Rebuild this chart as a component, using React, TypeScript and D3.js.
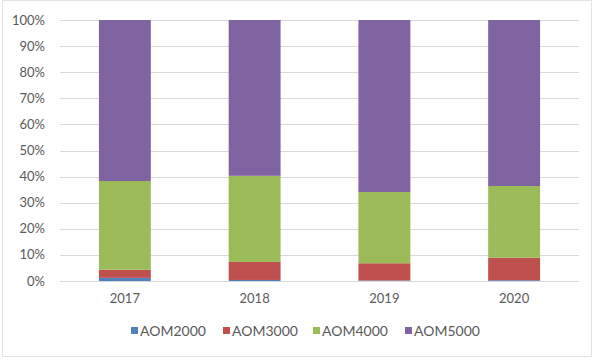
import React, { useRef, useEffect } from 'react';
import * as d3 from 'd3';

const years = ['2017', '2018', '2019', '2020'];
const seriesNames = ['AOM2000', 'AOM3000', 'AOM4000', 'AOM5000'];
const aom2000 = [1.2, 0.4, 0.2, 0.3];
const aom3000 = [3.1, 6.9, 6.6, 8.6];
const aom4000 = [34.0, 33.0, 27.3, 27.5];
const aom5000 = [61.7, 59.7, 65.9, 63.6];
const colors = ['#4f81bd', '#c0504d', '#9bbb59', '#8064a2'];
const yTicks = [0, 10, 20, 30, 40, 50, 60, 70, 80, 90, 100];

const W = 600;
const H = 361;
const margin = { top: 20, right: 21, bottom: 80, left: 60 };

const App = () => {
  const ref = useRef<SVGSVGElement | null>(null);

  useEffect(() => {
    if (!ref.current) return;
    const svg = d3.select(ref.current);
    svg.selectAll('*').remove();

    const rows = years.map((y, i) => ({
      year: y,
      AOM2000: aom2000[i],
      AOM3000: aom3000[i],
      AOM4000: aom4000[i],
      AOM5000: aom5000[i],
    }));
    const stacked = d3.stack<any>().keys(seriesNames)(rows);

    const x = d3
      .scaleBand()
      .domain(years)
      .range([margin.left, W - margin.right])
      .paddingInner(0.6)
      .paddingOuter(0.3);
    const y = d3
      .scaleLinear()
      .domain([0, 100])
      .range([H - margin.bottom, margin.top]);

    const font = 'Lato, "Open Sans", sans-serif';

    // frame
    svg
      .append('rect')
      .attr('x', 2.5)
      .attr('y', 0.5)
      .attr('width', 589)
      .attr('height', 356)
      .attr('fill', 'white')
      .attr('stroke', '#e3e3e3');

    // grid
    svg
      .append('g')
      .selectAll('line')
      .data(yTicks)
      .enter()
      .append('line')
      .attr('x1', margin.left)
      .attr('x2', W - margin.right)
      .attr('y1', (d) => Math.round(y(d)) + 0.5)
      .attr('y2', (d) => Math.round(y(d)) + 0.5)
      .attr('stroke', '#d9d9d9')
      .attr('stroke-width', 1);

    svg
      .append('g')
      .selectAll('text')
      .data(yTicks)
      .enter()
      .append('text')
      .attr('x', 45)
      .attr('y', (d) => y(d))
      .attr('dy', '0.35em')
      .attr('text-anchor', 'end')
      .attr('font-family', font)
      .attr('font-size', 13)
      .attr('fill', '#595959')
      .text((d) => `${d}%`);

    // bars
    svg
      .append('g')
      .selectAll('g')
      .data(stacked)
      .enter()
      .append('g')
      .attr('fill', (_, i) => colors[i])
      .selectAll('rect')
      .data((d) => d)
      .enter()
      .append('rect')
      .attr('x', (d) => x(d.data.year) ?? 0)
      .attr('width', x.bandwidth())
      .attr('y', (d) => y(d[1]))
      .attr('height', (d) => y(d[0]) - y(d[1]));

    // x labels
    svg
      .append('g')
      .selectAll('text')
      .data(years)
      .enter()
      .append('text')
      .attr('x', (d) => (x(d) ?? 0) + x.bandwidth() / 2)
      .attr('y', 303)
      .attr('text-anchor', 'middle')
      .attr('font-family', font)
      .attr('font-size', 13)
      .attr('fill', '#595959')
      .text((d) => d);

    // legend
    const legendX = [131, 223, 313, 405];
    const lg = svg
      .append('g')
      .selectAll('g')
      .data(seriesNames)
      .enter()
      .append('g')
      .attr('transform', (_, i) => `translate(${legendX[i]},331)`);
    lg.append('rect')
      .attr('x', 0)
      .attr('y', -4)
      .attr('width', 7)
      .attr('height', 7)
      .attr('fill', (_, i) => colors[i]);
    lg.append('text')
      .attr('x', 9)
      .attr('y', 0)
      .attr('dy', '0.35em')
      .attr('font-family', font)
      .attr('font-size', 14)
      .attr('fill', '#595959')
      .text((d) => d);
  }, []);

  return (
    <svg
      ref={ref}
      width={W}
      height={H}
      style={{ position: 'absolute', left: 0, top: 0, background: 'white' }}
    />
  );
};

export default App;
